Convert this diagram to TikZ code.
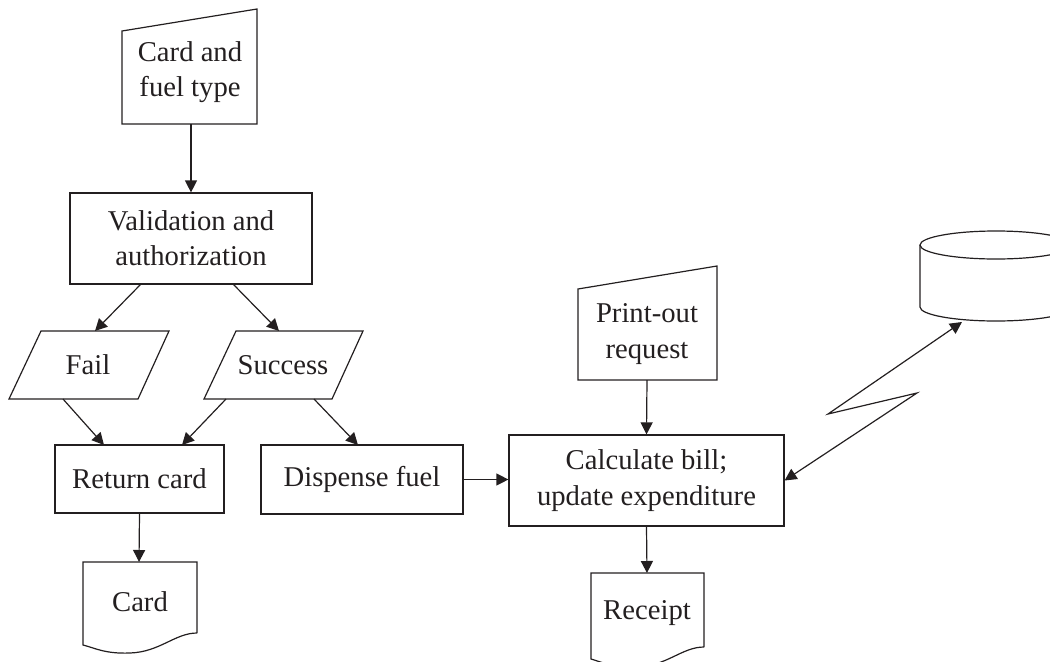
\documentclass[tikz,border=0pt]{standalone}
\usepackage{fontspec}
\setmainfont{Liberation Serif}
\usetikzlibrary{arrows.meta}
\definecolor{ink}{HTML}{231F20}
\begin{document}
\begin{tikzpicture}[x=0.75pt,y=-0.75pt,
  lbl/.style={align=center,inner sep=0pt,text=ink,font=\fontsize{21.5}{26.5}\selectfont},
  box/.style={lbl,draw=ink,line width=0.9pt},
  shp/.style={draw=ink,line width=0.9pt,line join=miter},
  arr/.style={draw=ink,line width=0.9pt,-{Triangle[length=9pt,width=9pt]}},
  darr/.style={draw=ink,line width=0.9pt,{Triangle[length=9pt,width=9pt]}-{Triangle[length=9pt,width=9pt]}}]
\useasboundingbox (0,0) rectangle (1050,661);

% manual input: card and fuel type
\draw[shp] (122,31) -- (257,9) -- (257,124) -- (122,124) -- cycle;
\node[lbl] (cin) at (190,72) {Card and\\fuel type};
\coordinate (cinb) at (191,124);

% validation
\node[box,minimum width=181.5pt,minimum height=68.25pt] (val) at (191,238.5) {Validation and\\authorization};

% fail / success
\draw[shp] (41,331) -- (169,331) -- (138,399) -- (9,399) -- cycle;
\node[lbl] (fail) at (88,365) {Fail};
\draw[shp] (236,331) -- (363,331) -- (332,399) -- (204,399) -- cycle;
\node[lbl] (succ) at (283,365) {Success};

% boxes
\node[box,minimum width=126.75pt,minimum height=51pt] (ret) at (139.5,479) {Return card};
\node[box,minimum width=151.5pt,minimum height=51.75pt] (disp) at (362,479.5) {Dispense fuel};
\node[box,minimum width=206.25pt,minimum height=68.25pt] (calc) at (646.5,480.5) {Calculate bill;\\update expenditure};

% card document
\draw[shp] (197,633) -- (197,562) -- (83,562) -- (83,645)
  .. controls (95,648) and (105,654) .. (130,653)
  .. controls (160,652) and (175,633) .. (197,633);
\node[lbl] (card) at (140,602) {Card};

% print-out request
\draw[shp] (578,289) -- (717,266) -- (717,380) -- (578,380) -- cycle;
\node[lbl] (pout) at (647,334) {Print-out\\request};
\coordinate (poutb) at (647,380);

% receipt document
\draw[shp] (704,647) -- (704,573) -- (591,573) -- (591,659)
  .. controls (602,662) and (612,668) .. (637,667)
  .. controls (667,666) and (682,647) .. (704,647);
\node[lbl] (rcpt) at (647,613) {Receipt};
\coordinate (rcptt) at (647,573);

% disk store
\draw[shp] (996,245) ellipse [x radius=57pt, y radius=10.5pt];
\draw[shp] (920,245) -- (920,307) arc [start angle=180, end angle=360, x radius=57pt, y radius=10.5pt] -- (1072,245);
\coordinate (disk) at (962,322);

% connector coordinates
\coordinate (c2) at (141,284); \coordinate (c3) at (95,331);
\coordinate (c4) at (233,284); \coordinate (c5) at (279,331);
\coordinate (c6) at (63,399);  \coordinate (c7) at (104,445);
\coordinate (c8) at (226,399); \coordinate (c9) at (182,445);
\coordinate (c10) at (314,399); \coordinate (c11) at (358,445);
\coordinate (cardt) at (139,562);
\coordinate (z1) at (917,393); \coordinate (z2) at (828,414);

% connectors
\draw[arr] (cinb) -- (val.north);
\draw[arr] (c2) -- (c3);
\draw[arr] (c4) -- (c5);
\draw[arr] (c6) -- (c7);
\draw[arr] (c8) -- (c9);
\draw[arr] (c10) -- (c11);
\draw[arr] (ret.south) -- (cardt);
\draw[arr] (disp.east) -- (calc.west |- disp.east);
\draw[arr] (poutb) -- (calc.north);
\draw[arr] (calc.south) -- (rcptt);
\draw[darr] (calc.east) -- (z1) -- (z2) -- (disk);
\end{tikzpicture}
\end{document}
